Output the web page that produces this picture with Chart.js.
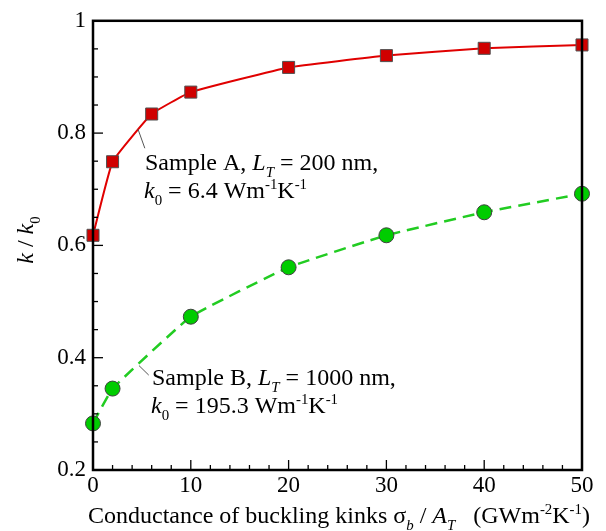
<!DOCTYPE html>
<html>
<head>
<meta charset="utf-8">
<script src="https://cdn.jsdelivr.net/npm/chart.js@4/dist/chart.umd.min.js"></script>
<style>
  html, body { margin: 0; padding: 0; background: #fff; }
  #wrap { width: 606px; height: 531px; }
</style>
</head>
<body>
<div id="wrap"><canvas id="chart-k"></canvas></div>
<script>
// data
let xValuesA = [0, 2, 6, 10, 20, 30, 40, 50];
let kRatioA = [0.618, 0.749, 0.834, 0.873, 0.917, 0.938, 0.951, 0.957];
let xValuesB = [0, 2, 10, 20, 30, 40, 50];
let kRatioB = [0.283, 0.345, 0.473, 0.561, 0.618, 0.659, 0.692];
let xTicks = [0, 10, 20, 30, 40, 50];
let yTicks = [0.2, 0.4, 0.6, 0.8, 1];

let serif = "'Liberation Serif', 'DejaVu Serif', serif";

let toPoints = function (xs, ys) {
  return xs.map(function (x, i) {
    return { x: x, y: ys[i] };
  });
};

// draw a line of text made of normal / italic / sub / sup pieces
let drawRich = function (ctx, x, y, parts, size) {
  let cx = x;
  parts.forEach(function (p) {
    let s = p.sub || p.sup ? size * 0.62 : size;
    ctx.font = (p.it ? "italic " : "") + s + "px " + serif;
    let dy = p.sub ? size * 0.3 : p.sup ? -size * 0.38 : 0;
    ctx.fillText(p.t, cx, y + dy);
    cx += ctx.measureText(p.t).width;
  });
  return cx - x;
};

let richWidth = function (ctx, parts, size) {
  let w = 0;
  parts.forEach(function (p) {
    let s = p.sub || p.sup ? size * 0.62 : size;
    ctx.font = (p.it ? "italic " : "") + s + "px " + serif;
    w += ctx.measureText(p.t).width;
  });
  return w;
};

let labelA1 = [{ t: "Sample A, " }, { t: "L", it: true }, { t: "T", it: true, sub: true }, { t: " = 200 nm," }];
let labelA2 = [{ t: "k", it: true }, { t: "0", sub: true }, { t: " = 6.4 Wm" }, { t: "-1", sup: true }, { t: "K" }, { t: "-1", sup: true }];
let labelB1 = [{ t: "Sample B, " }, { t: "L", it: true }, { t: "T", it: true, sub: true }, { t: " = 1000 nm," }];
let labelB2 = [{ t: "k", it: true }, { t: "0", sub: true }, { t: " = 195.3 Wm" }, { t: "-1", sup: true }, { t: "K" }, { t: "-1", sup: true }];
let xTitle = [
  { t: "Conductance of buckling kinks " }, { t: "σ" }, { t: "b", it: true, sub: true },
  { t: " / " }, { t: "A", it: true }, { t: "T", it: true, sub: true },
  { t: "   (GWm" }, { t: "-2", sup: true }, { t: "K" }, { t: "-1", sup: true }, { t: ")" },
];
let yTitle = [{ t: "k", it: true }, { t: " / " }, { t: "k", it: true }, { t: "0", sub: true }];

let framePlugin = {
  id: "frame",
  afterDraw: function (chart) {
    let ctx = chart.ctx;
    let a = chart.chartArea;
    let xs = chart.scales.x;
    let ys = chart.scales.y;
    ctx.save();
    ctx.strokeStyle = "#000";
    // ticks pointing inside
    ctx.lineWidth = 1.3;
    for (let v = 0; v <= 50; v += 2) {
      let px = xs.getPixelForValue(v);
      let len = v % 10 === 0 ? 10 : 5;
      ctx.beginPath();
      ctx.moveTo(px, a.bottom);
      ctx.lineTo(px, a.bottom - len);
      ctx.stroke();
    }
    for (let i = 0; i <= 16; i++) {
      let v = 0.2 + i * 0.05;
      let py = ys.getPixelForValue(v);
      let len = i % 4 === 0 ? 10 : 5;
      ctx.beginPath();
      ctx.moveTo(a.left, py);
      ctx.lineTo(a.left + len, py);
      ctx.stroke();
    }
    // box
    ctx.lineWidth = 2.5;
    ctx.strokeRect(a.left, a.top, a.right - a.left, a.bottom - a.top);

    // leader lines
    ctx.strokeStyle = "#555";
    ctx.lineWidth = 1;
    ctx.beginPath();
    ctx.moveTo(xs.getPixelForValue(4.6), ys.getPixelForValue(0.807));
    ctx.lineTo(xs.getPixelForValue(5.3), ys.getPixelForValue(0.773));
    ctx.moveTo(xs.getPixelForValue(4.7), ys.getPixelForValue(0.386));
    ctx.lineTo(xs.getPixelForValue(5.7), ys.getPixelForValue(0.369));
    ctx.stroke();

    // annotations
    ctx.fillStyle = "#000";
    ctx.textBaseline = "alphabetic";
    ctx.textAlign = "left";
    drawRich(ctx, 145, 170, labelA1, 24);
    drawRich(ctx, 144, 198, labelA2, 24);
    drawRich(ctx, 152, 385, labelB1, 24);
    drawRich(ctx, 151, 413, labelB2, 24);

    // axis titles
    drawRich(ctx, 88, 523, xTitle, 24);
    ctx.translate(33, 240);
    ctx.rotate(-Math.PI / 2);
    let wy = richWidth(ctx, yTitle, 24);
    drawRich(ctx, -wy / 2, 0, yTitle, 24);
    ctx.restore();
  },
};

let chartDraw = function () {
  let ctx = document.getElementById("chart-k").getContext("2d");
  new Chart(ctx, {
    type: "line",
    data: {
      datasets: [
        {
          label: "Sample A",
          data: toPoints(xValuesA, kRatioA),
          borderColor: "#e00000",
          borderWidth: 2,
          backgroundColor: "#d00000",
          pointStyle: "rect",
          pointRadius: 8.5,
          pointBorderColor: "#505050",
          pointBorderWidth: 1,
          tension: 0.1,
          clip: false,
          fill: false,
        },
        {
          label: "Sample B",
          data: toPoints(xValuesB, kRatioB),
          borderColor: "#22cc22",
          borderWidth: 2.5,
          borderDash: [12, 7],
          backgroundColor: "#00cc00",
          pointStyle: "circle",
          pointRadius: 7.5,
          pointBorderColor: "#404040",
          pointBorderWidth: 1,
          tension: 0.1,
          clip: false,
          fill: false,
        },
      ],
    },
    options: {
      responsive: true,
      maintainAspectRatio: false,
      animation: false,
      layout: { padding: { top: 19, right: 24, left: 0, bottom: 0 } },
      plugins: {
        legend: { display: false },
        tooltip: { enabled: false },
      },
      scales: {
        x: {
          type: "linear",
          min: 0,
          max: 50,
          afterBuildTicks: function (scale) {
            scale.ticks = xTicks.map(function (v) { return { value: v }; });
          },
          afterFit: function (scale) { scale.height = 61; },
          ticks: {
            color: "#000",
            font: { family: serif, size: 23 },
            padding: 2,
            maxRotation: 0,
            autoSkip: false,
          },
          grid: { display: false, drawTicks: false },
          border: { display: false },
        },
        y: {
          type: "linear",
          min: 0.2,
          max: 1,
          afterBuildTicks: function (scale) {
            scale.ticks = yTicks.map(function (v) { return { value: v }; });
          },
          afterFit: function (scale) { scale.width = 93; },
          ticks: {
            color: "#000",
            font: { family: serif, size: 23 },
            padding: 7,
            autoSkip: false,
            callback: function (v) { return String(Math.round(v * 10) / 10); },
          },
          grid: { display: false, drawTicks: false },
          border: { display: false },
        },
      },
    },
    plugins: [framePlugin],
  });
};

window.onload = function () {
  chartDraw();
};
</script>
</body>
</html>
